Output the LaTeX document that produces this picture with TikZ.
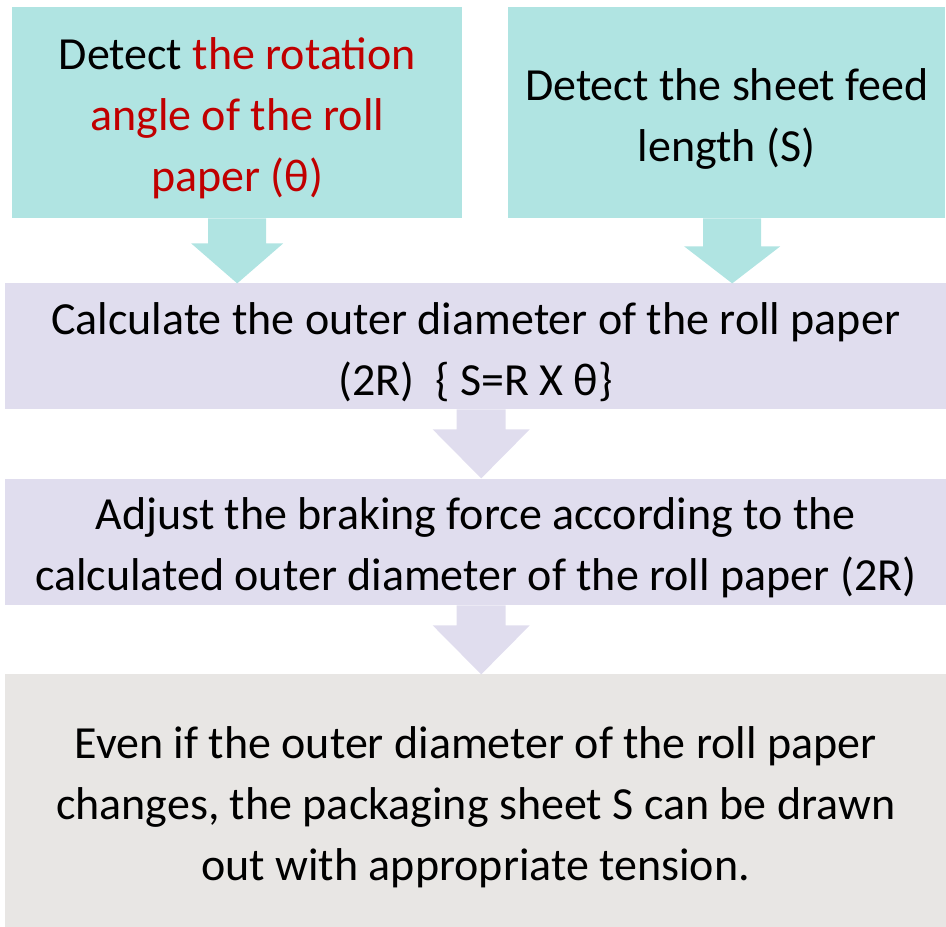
\documentclass[tikz,border=0pt]{standalone}
\usepackage{fontspec}
\setmainfont{Carlito}
\usetikzlibrary{calc}
\definecolor{tealbox}{HTML}{B0E4E2}
\definecolor{lavbox}{HTML}{E0DDEE}
\definecolor{graybox}{HTML}{E8E6E4}
\definecolor{redtxt}{HTML}{C00000}
\tikzset{
  box/.style={rectangle, anchor=north west, inner sep=0pt, draw=none},
  boxtext/.style={inner sep=0pt, align=center, yshift=-6pt,
    font=\fontsize{46}{61}\selectfont, text=black},
}
\newcommand{\blockarrow}[8]{%
  % #1 start coord, #2 fill, #3 half stem width, #4 stem length, #5 half head width, #6 head length, #7 x offset, #8 name
  \fill[#2] ($#1+(#7-#3,0)$) -- ++(0,-#4) -- ($#1+(#7-#5,-#4)$) -- ($#1+(#7,-#4-#6)$) coordinate (#8)
    -- ($#1+(#7+#5,-#4)$) -- ($#1+(#7+#3,-#4)$) -- ($#1+(#7+#3,0)$) -- cycle;}
\begin{document}
\begin{tikzpicture}[x=1pt,y=1pt]
\useasboundingbox (0,0) rectangle (946,-927);
\node[box, fill=tealbox, minimum width=450pt, minimum height=211pt] (A) at (12,-7) {};
\node[box, fill=tealbox, minimum width=437pt, minimum height=211pt] (B) at (508,-7) {};
\node[box, fill=lavbox, minimum width=941pt, minimum height=126pt] (C) at (5,-283) {};
\node[box, fill=lavbox, minimum width=941pt, minimum height=126pt] (D) at (5,-479) {};
\node[box, fill=graybox, minimum width=941pt, minimum height=253pt] (E) at (5,-674) {};
\node[boxtext] (At) at (A.center)
  {Detect \textcolor{redtxt}{the rotation}\\\textcolor{redtxt}{angle of the roll}\\\textcolor{redtxt}{paper (θ)}};
\node[boxtext] (Bt) at (B.center) {Detect the sheet feed\\length (S)};
\node[boxtext] (Ct) at (C.center) {Calculate the outer diameter of the roll paper\\(2R)\ \ \{ S=R X θ\}};
\node[boxtext] (Dt) at (D.center) {Adjust the braking force according to the\\calculated outer diameter of the roll paper (2R)};
\node[boxtext, yshift=-1pt] (Et) at (E.center) {Even if the outer diameter of the roll paper\\changes, the packaging sheet S can be drawn\\out with appropriate tension.};
\blockarrow{(A.south)}{tealbox}{29}{25}{46}{40}{0}{tA}
\blockarrow{(B.south)}{tealbox}{29}{28}{48}{37}{5.5}{tB}
\blockarrow{(C.south)}{lavbox}{24.5}{20}{48.5}{49}{5.5}{tC}
\blockarrow{(D.south)}{lavbox}{24.5}{20}{48.5}{49}{5.5}{tD}
\end{tikzpicture}
\end{document}
